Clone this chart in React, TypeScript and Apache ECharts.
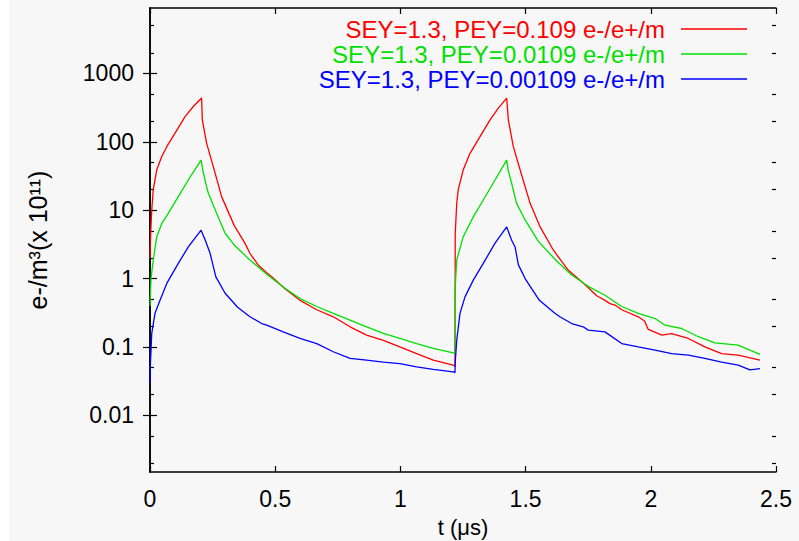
import React, { useEffect, useRef } from 'react';
import * as echarts from 'echarts';

// legend names and colours
const seriesNames = [
  'SEY=1.3, PEY=0.109 e-/e+/m',
  'SEY=1.3, PEY=0.0109 e-/e+/m',
  'SEY=1.3, PEY=0.00109 e-/e+/m',
];
const seriesColors = ['#ff0000', '#00e000', '#0000ff'];

// [t (us), density]
const redPoints = [
  [0, 2.0], [0.003, 5], [0.007, 10], [0.013, 20], [0.027, 39], [0.047, 61], [0.067, 85],
  [0.1, 134], [0.14, 234], [0.173, 329], [0.206, 437], [0.209, 210], [0.226, 96], [0.253, 43],
  [0.286, 15.8], [0.336, 6.0], [0.379, 3.3], [0.399, 2.34], [0.432, 1.58], [0.466, 1.22],
  [0.486, 1.06], [0.539, 0.71], [0.599, 0.48], [0.666, 0.35], [0.732, 0.276], [0.799, 0.197],
  [0.865, 0.149], [0.932, 0.125], [0.998, 0.1], [1.065, 0.08], [1.131, 0.064], [1.211, 0.054],
  [1.218, 0.052],
  [1.219, 4.6], [1.225, 12.6], [1.231, 20], [1.251, 39], [1.278, 68], [1.318, 119], [1.358, 210],
  [1.391, 311], [1.4245, 437], [1.431, 210], [1.451, 85], [1.478, 39], [1.518, 12.6], [1.558, 5.7],
  [1.611, 2.6], [1.67, 1.33], [1.74, 0.8], [1.784, 0.56], [1.817, 0.48], [1.837, 0.43],
  [1.857, 0.41], [1.884, 0.35], [1.95, 0.276], [1.975, 0.24], [1.99, 0.18], [2.044, 0.149],
  [2.083, 0.157], [2.15, 0.133], [2.216, 0.1], [2.283, 0.08], [2.349, 0.076], [2.436, 0.064],
];

const greenPoints = [
  [0, 0.4], [0.004, 1.0], [0.013, 1.87], [0.027, 4.1], [0.047, 6.4], [0.073, 9], [0.113, 15.8],
  [0.153, 27.7], [0.204, 54], [0.213, 35], [0.226, 22], [0.233, 17.7], [0.266, 9], [0.3, 4.6],
  [0.336, 3.1], [0.399, 1.87], [0.466, 1.16], [0.539, 0.72], [0.599, 0.51], [0.666, 0.39],
  [0.732, 0.31], [0.799, 0.247], [0.865, 0.197], [0.932, 0.158], [0.998, 0.133], [1.065, 0.112],
  [1.131, 0.095], [1.211, 0.082], [1.218, 0.08],
  [1.219, 0.76], [1.225, 1.87], [1.251, 4.1], [1.291, 8], [1.331, 14.1], [1.378, 27.7],
  [1.4245, 54], [1.431, 38], [1.444, 25], [1.464, 12.6], [1.498, 7.2], [1.551, 3.5], [1.62, 1.87],
  [1.684, 1.13], [1.75, 0.77], [1.817, 0.57], [1.884, 0.39], [1.95, 0.31], [2.017, 0.26],
  [2.057, 0.208], [2.123, 0.186], [2.19, 0.141], [2.256, 0.115], [2.349, 0.106], [2.436, 0.078],
];

const bluePoints = [
  [0, 0.03], [0.002, 0.06], [0.007, 0.158], [0.02, 0.31], [0.04, 0.48], [0.067, 0.85],
  [0.113, 1.67], [0.153, 2.9], [0.204, 5.1], [0.22, 3.7], [0.24, 2.34], [0.263, 1.06], [0.3, 0.61],
  [0.35, 0.38], [0.399, 0.276], [0.446, 0.22], [0.466, 0.208], [0.532, 0.166], [0.599, 0.133],
  [0.666, 0.112], [0.732, 0.085], [0.799, 0.068], [0.865, 0.064], [0.932, 0.06], [0.998, 0.057],
  [1.065, 0.051], [1.131, 0.047], [1.211, 0.043], [1.218, 0.042],
  [1.219, 0.06], [1.225, 0.125], [1.238, 0.31], [1.258, 0.54], [1.291, 0.95], [1.331, 1.67],
  [1.378, 3.3], [1.4245, 5.7], [1.444, 3.66], [1.458, 2.9], [1.471, 1.6], [1.498, 1.0],
  [1.555, 0.48], [1.617, 0.31], [1.637, 0.276], [1.684, 0.22], [1.73, 0.197], [1.75, 0.176],
  [1.817, 0.166], [1.884, 0.112], [1.95, 0.1], [2.017, 0.09], [2.083, 0.08], [2.15, 0.076],
  [2.216, 0.068], [2.283, 0.06], [2.349, 0.054], [2.396, 0.046], [2.436, 0.048],
];

// axes
const yMajorTicks = [0.01, 0.1, 1, 10, 100, 1000];
const yMinorTicks = [0.002, 0.005, 0.02, 0.05, 0.2, 0.5, 2, 5, 20, 50, 200, 500, 2000, 5000];
const yMin = 0.00148;
const yMax = 9080;

const FONT = 'Liberation Sans';

const frameLine = { lineStyle: { color: '#000', width: 1.5 } };

const App = () => {
  const chartRef = useRef(null);

  useEffect(() => {
    const chart = echarts.init(chartRef.current, null, { renderer: 'svg' });

    const logAxis = (position, ticks, length, withLine, withLabels) => ({
      type: 'log',
      position,
      min: yMin,
      max: yMax,
      axisLine: { show: withLine, ...frameLine },
      axisTick: { inside: true, length, customValues: ticks, lineStyle: { color: '#000', width: 1.2 } },
      axisLabel: withLabels
        ? {
            customValues: yMajorTicks,
            margin: 16,
            fontSize: 23,
            fontFamily: FONT,
            color: '#000',
            formatter: (v) => String(Number(Number(v).toPrecision(6))),
          }
        : { show: false },
      splitLine: { show: false },
      minorTick: { show: false },
    });

    const xAxisBase = {
      type: 'value',
      min: 0,
      max: 2.5,
      interval: 0.5,
      axisLine: { show: true, onZero: false, ...frameLine },
      axisTick: { inside: true, length: 6, lineStyle: { color: '#000', width: 1.2 } },
      splitLine: { show: false },
    };

    const options = {
      animation: false,
      backgroundColor: '#f7f7f7',
      textStyle: { fontFamily: FONT },
      // outerBoundsMode 'none' keeps the grid where it is set
      grid: { left: 141, right: 23, top: 8, bottom: 69, containLabel: false, outerBoundsMode: 'none' },
      legend: {
        orient: 'vertical',
        right: 47,
        top: 12,
        align: 'right',
        itemGap: 1,
        itemWidth: 66,
        itemHeight: 1.5,
        icon: 'rect',
        selectedMode: false,
        textStyle: { fontSize: 24, fontFamily: FONT, padding: [0, 11, 0, 0] },
        data: seriesNames.map((name, i) => ({ name, textStyle: { color: seriesColors[i] } })),
      },
      xAxis: [
        {
          ...xAxisBase,
          position: 'bottom',
          name: 't (μs)',
          nameLocation: 'middle',
          nameGap: 44,
          nameTextStyle: { fontSize: 22, fontFamily: FONT, color: '#000' },
          axisLabel: { margin: 15, fontSize: 23, fontFamily: FONT, color: '#000' },
        },
        { ...xAxisBase, position: 'top', axisLabel: { show: false } },
      ],
      yAxis: [
        {
          ...logAxis('left', yMajorTicks, 7, true, true),
          name: 'e-/m³(x 10¹¹)',
          nameLocation: 'middle',
          nameRotate: 90,
          nameGap: 100,
          nameTextStyle: { fontSize: 25, fontFamily: FONT, color: '#000' },
        },
        logAxis('right', yMajorTicks, 7, true, false),
        logAxis('left', yMinorTicks, 4, false, false),
        logAxis('right', yMinorTicks, 4, false, false),
      ],
      series: [redPoints, greenPoints, bluePoints].map((pts, i) => ({
        name: seriesNames[i],
        type: 'line',
        data: pts,
        xAxisIndex: 0,
        yAxisIndex: 0,
        symbol: 'none',
        showSymbol: false,
        color: seriesColors[i],
        lineStyle: { color: seriesColors[i], width: 1.3 },
      })),
    };

    chart.setOption(options);

    const onResize = () => chart.resize();
    window.addEventListener('resize', onResize);
    return () => {
      window.removeEventListener('resize', onResize);
      chart.dispose();
    };
  }, []);

  return (
    <div
      ref={chartRef}
      style={{ position: 'absolute', left: 9, top: 0, width: 790, height: 541 }}
    ></div>
  );
};

export default App;
